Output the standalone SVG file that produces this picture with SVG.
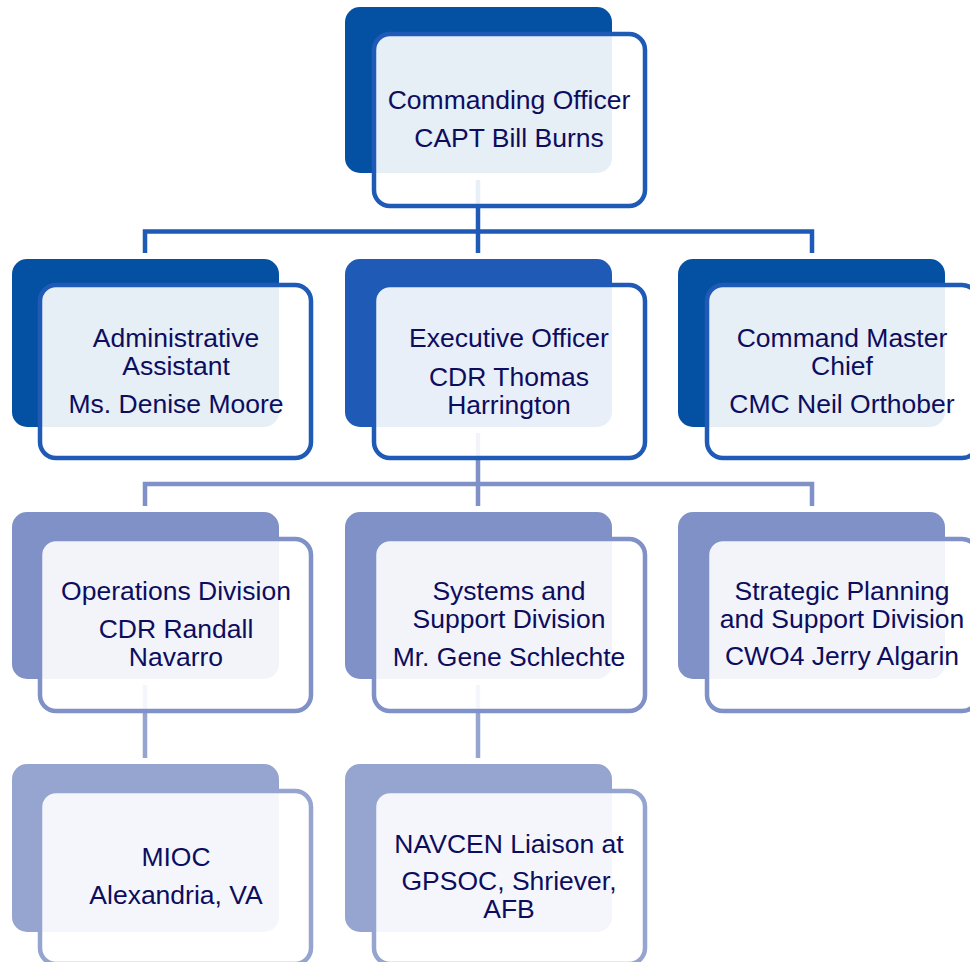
<svg xmlns="http://www.w3.org/2000/svg" width="970" height="962" viewBox="0 0 970 962">
<style>
.t{font-family:"Liberation Sans",Arial,sans-serif;font-size:26.5px;fill:#0d0d5e;text-anchor:middle}
.box{fill:#ffffff;fill-opacity:0.9;stroke-width:4.5}
.c{fill:none;stroke-width:4.5;stroke-linejoin:miter}
.d1{fill:#0450a2}.d2{fill:#1f5bb6}.d3{fill:#7f91c7}.d4{fill:#95a5cf}
.s1{stroke:#1f5bb6}.s3{stroke:#7f91c7}.s4{stroke:#95a5cf}
</style>
<rect width="970" height="962" fill="#ffffff"/>
<g id="connectors">
<path class="c s1" d="M478,180 V253 M145,253 V231.5 H812 V253"/>
<path class="c s3" d="M478,433 V506 M145,506 V484 H812 V506"/>
<path class="c s4" d="M145,685 V758 M478,685 V758"/>
</g>
<g id="n-co">
<rect class="d1" x="345" y="7" width="267" height="166" rx="15"/>
<rect class="box s1" x="374" y="34" width="271" height="172" rx="16"/>
<text class="t" x="509" y="109">Commanding Officer</text>
<text class="t" x="509" y="147">CAPT Bill Burns</text>
</g>
<g id="n-admin">
<rect class="d1" x="12" y="259" width="267" height="168" rx="15"/>
<rect class="box s1" x="40" y="285" width="271" height="173" rx="16"/>
<text class="t" x="176" y="347">Administrative</text>
<text class="t" x="176" y="375">Assistant</text>
<text class="t" x="176" y="413">Ms. Denise Moore</text>
</g>
<g id="n-xo">
<rect class="d2" x="345" y="259" width="267" height="168" rx="15"/>
<rect class="box s1" x="374" y="285" width="271" height="173" rx="16"/>
<text class="t" x="509" y="347">Executive Officer</text>
<text class="t" x="509" y="386">CDR Thomas</text>
<text class="t" x="509" y="414">Harrington</text>
</g>
<g id="n-cmc">
<rect class="d1" x="678" y="259" width="267" height="168" rx="15"/>
<rect class="box s1" x="707" y="285" width="271" height="173" rx="16"/>
<text class="t" x="842" y="347">Command Master</text>
<text class="t" x="842" y="375">Chief</text>
<text class="t" x="842" y="413">CMC Neil Orthober</text>
</g>
<g id="n-ops">
<rect class="d3" x="12" y="512" width="267" height="167" rx="15"/>
<rect class="box s3" x="40" y="539" width="271" height="172" rx="16"/>
<text class="t" x="176" y="600">Operations Division</text>
<text class="t" x="176" y="638">CDR Randall</text>
<text class="t" x="176" y="666">Navarro</text>
</g>
<g id="n-sys">
<rect class="d3" x="345" y="512" width="267" height="167" rx="15"/>
<rect class="box s3" x="374" y="539" width="271" height="172" rx="16"/>
<text class="t" x="509" y="600">Systems and</text>
<text class="t" x="509" y="628">Support Division</text>
<text class="t" x="509" y="666">Mr. Gene Schlechte</text>
</g>
<g id="n-spsd">
<rect class="d3" x="678" y="512" width="267" height="167" rx="15"/>
<rect class="box s3" x="707" y="539" width="271" height="172" rx="16"/>
<text class="t" x="842" y="600">Strategic Planning</text>
<text class="t" x="842" y="628">and Support Division</text>
<text class="t" x="842" y="665">CWO4 Jerry Algarin</text>
</g>
<g id="n-mioc">
<rect class="d4" x="12" y="764" width="267" height="168" rx="15"/>
<rect class="box s4" x="40" y="791" width="271" height="173" rx="16"/>
<text class="t" x="176" y="866">MIOC</text>
<text class="t" x="176" y="904">Alexandria, VA</text>
</g>
<g id="n-navcen">
<rect class="d4" x="345" y="764" width="267" height="168" rx="15"/>
<rect class="box s4" x="374" y="791" width="271" height="173" rx="16"/>
<text class="t" x="509" y="853">NAVCEN Liaison at</text>
<text class="t" x="509" y="890">GPSOC, Shriever,</text>
<text class="t" x="509" y="918">AFB</text>
</g>
</svg>
